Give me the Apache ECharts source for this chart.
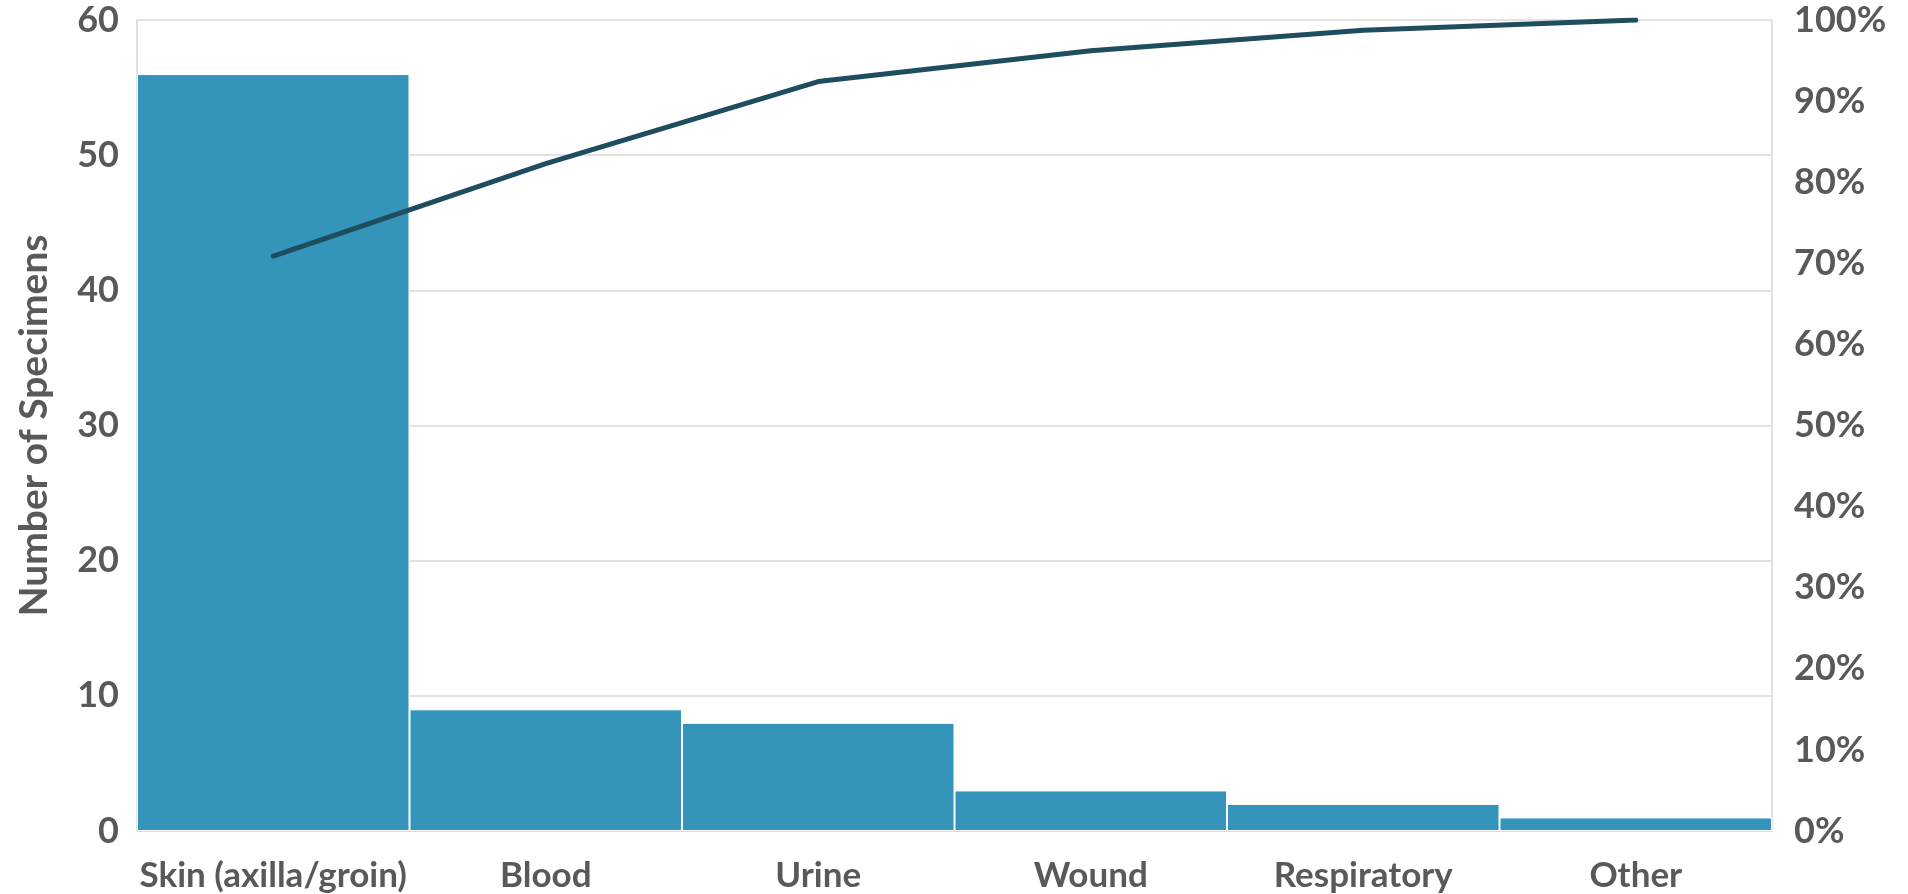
<!DOCTYPE html>
<html>
<head>
<meta charset="utf-8">
<script src="https://cdn.jsdelivr.net/npm/echarts@6/dist/echarts.min.js"></script>
<style>
  html, body { margin: 0; padding: 0; background: #fff; }
  #chart { width: 1908px; height: 894px; }
</style>
</head>
<body>
<div id="chart"></div>
<script>
// Specimen sources and counts
const categories = ['Skin (axilla/groin)', 'Blood', 'Urine', 'Wound', 'Respiratory', 'Other'];
const counts = [56, 9, 8, 3, 2, 1];
const countTicks = [0, 10, 20, 30, 40, 50, 60];
const percentTicks = [0, 10, 20, 30, 40, 50, 60, 70, 80, 90, 100];

// Cumulative share of the total, in percent
const total = counts.reduce((a, b) => a + b, 0);
let running = 0;
const cumulative = counts.map(v => { running += v; return running / total * 100; });

const textColor = '#595959';
const fontFamily = 'Lato, "Open Sans", sans-serif';
const gridColor = '#D9D9D9';

const chart = echarts.init(document.getElementById('chart'), null, { renderer: 'canvas' });
chart.setOption({
  animation: false,
  textStyle: { fontFamily: fontFamily },
  grid: { left: 137, right: 136, top: 20, bottom: 63 },
  xAxis: {
    type: 'category',
    data: categories,
    axisLine: { show: true, lineStyle: { color: gridColor, width: 1.5 } },
    axisTick: { show: false },
    axisLabel: { color: textColor, fontSize: 35, fontWeight: 'bold', fontFamily: fontFamily, margin: 27, interval: 0 }
  },
  yAxis: [
    {
      type: 'value',
      min: countTicks[0],
      max: countTicks[countTicks.length - 1],
      interval: 10,
      name: 'Number of Specimens',
      nameLocation: 'middle',
      nameGap: 83,
      nameTextStyle: { color: textColor, fontSize: 39, fontWeight: 'bold', fontFamily: fontFamily },
      axisLine: { show: true, lineStyle: { color: gridColor, width: 1.5 } },
      axisTick: { show: false },
      splitLine: { show: true, lineStyle: { color: gridColor, width: 1.5 } },
      axisLabel: { color: textColor, fontSize: 36, fontWeight: 'bold', fontFamily: fontFamily, margin: 18 }
    },
    {
      type: 'value',
      min: percentTicks[0],
      max: percentTicks[percentTicks.length - 1],
      interval: 10,
      position: 'right',
      axisLine: { show: true, lineStyle: { color: gridColor, width: 1.5 } },
      axisTick: { show: false },
      splitLine: { show: false },
      axisLabel: { color: textColor, fontSize: 36, fontWeight: 'bold', fontFamily: fontFamily, margin: 22, formatter: '{value}%' }
    }
  ],
  series: [
    {
      type: 'bar',
      data: counts,
      yAxisIndex: 0,
      barCategoryGap: 0,
      itemStyle: { color: '#3494BA', borderColor: '#ffffff', borderWidth: 1 }
    },
    {
      type: 'line',
      data: cumulative,
      yAxisIndex: 1,
      symbol: 'none',
      lineStyle: { color: '#1E4D5F', width: 5, cap: 'round', join: 'round' }
    }
  ]
});
</script>
</body>
</html>
